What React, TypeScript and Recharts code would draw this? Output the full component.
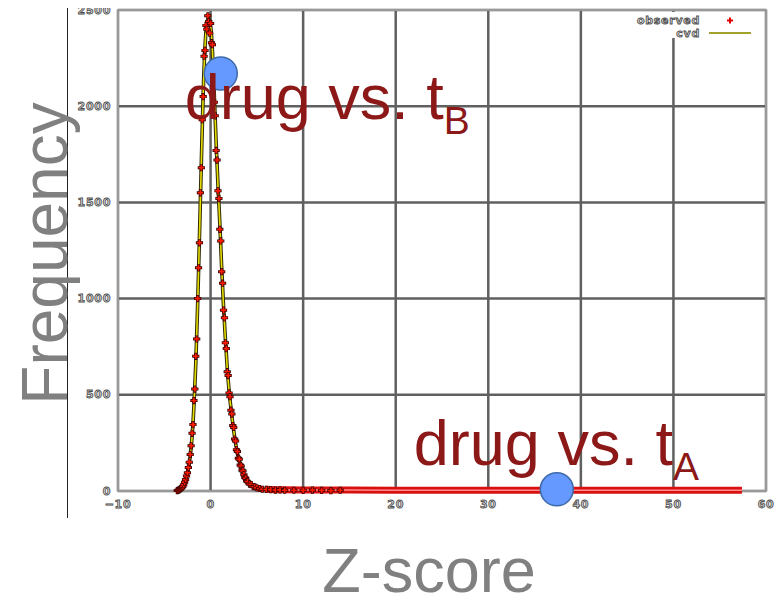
import React from 'react';
import {
  ComposedChart,
  XAxis,
  YAxis,
  CartesianGrid,
  Line,
  Scatter,
  ReferenceDot,
  ReferenceArea,
  Legend,
} from 'recharts';

// ---------- data ----------
const xTicks = [-10, 0, 10, 20, 30, 40, 50, 60];
const yTicks = [0, 500, 1000, 1500, 2000, 2500];
const seriesNames = ['observed', 'cvd'];

const observedZ = [
  -3.6, -3.5, -3.4, -3.3, -3.2, -3.1, -3.0, -2.9, -2.8, -2.7,
  -2.6, -2.5, -2.4, -2.3, -2.2, -2.1, -2.0, -1.9, -1.8, -1.7,
  -1.6, -1.5, -1.4, -1.3, -1.2, -1.1, -1.0, -0.9, -0.8, -0.7,
  -0.6, -0.5, -0.4, -0.3, -0.2, -0.1, 0.0, 0.1, 0.2, 0.3,
  0.4, 0.5, 0.6, 0.7, 0.8, 0.9, 1.0, 1.1, 1.2, 1.3,
  1.4, 1.5, 1.6, 1.7, 1.8, 1.9, 2.0, 2.1, 2.2, 2.3,
  2.4, 2.5, 2.6, 2.7, 2.8, 2.9, 3.0, 3.1, 3.2, 3.3,
  3.4, 3.5, 3.6, 3.7, 3.8, 3.9, 4.0, 4.2, 4.4, 4.6,
  4.8, 5.0, 5.3, 5.6, 6.0, 6.5, 7.0, 7.5, 8.0, 9.0,
  10.0, 11.0, 12.0, 13.0, 14.0,
];
const observedFreq = [
  2, 4, 6, 9, 14, 18, 24, 33, 46, 60,
  78, 95, 122, 150, 190, 235, 300, 345, 470, 530,
  700, 790, 1000, 1160, 1290, 1550, 1680, 1930, 2050, 2260,
  2290, 2420, 2400, 2470, 2440, 2380, 2430, 2330, 2320, 2200,
  2020, 1950, 1770, 1720, 1560, 1520, 1360, 1300, 1140, 1080,
  940, 900, 770, 740, 620, 600, 510, 490, 420, 400,
  340, 330, 270, 260, 215, 205, 170, 165, 135, 130,
  108, 104, 85, 70, 66, 52, 48, 36, 33, 23,
  22, 16, 13, 9, 8, 7, 5, 6, 4, 4,
  3, 5, 3, 2, 4,
];

const fitZ = [
  -3.6, -3.4, -3.2, -3.0, -2.8, -2.6, -2.4, -2.2, -2.0, -1.8,
  -1.6, -1.4, -1.2, -1.0, -0.8, -0.6, -0.4, -0.2, 0.0, 0.2,
  0.4, 0.6, 0.8, 1.0, 1.2, 1.4, 1.6, 1.8, 2.0, 2.2,
  2.4, 2.6, 2.8, 3.0, 3.3, 3.6, 4.0, 4.5, 5.0, 5.5,
  6.0, 7.0, 8.0,
];
const fitFreq = [
  0, 4, 8, 20, 41, 70, 115, 180, 280, 440,
  660, 960, 1320, 1700, 2060, 2310, 2430, 2455, 2420, 2290,
  2060, 1810, 1590, 1390, 1160, 960, 790, 640, 520, 430,
  350, 280, 220, 175, 125, 80, 45, 25, 15, 10,
  7, 5, 4,
];

// long tail of observed counts (dense crosses forming a band)
const tailZ = [6, 7, 8, 10, 15, 20, 25, 30, 35, 40, 45, 50, 55, 57.4];
const tailFreq = [9, 7, 6, 5, 5, 4, 4, 4, 4, 4, 4, 4, 4, 4];

const markerZ = [1.1, 37.4];
const markerFreq = [2170, 9];
const markerSub = ['B', 'A'];

// ---------- derived tables ----------
const observed = observedZ.map((z, i) => ({ z, f: observedFreq[i] }));
const fit = fitZ.map((z, i) => ({ z, f: fitFreq[i] }));
const tail = tailZ.map((z, i) => ({ z, f: tailFreq[i] }));

// ---------- styles ----------
const tinyFont: React.CSSProperties = {
  fontFamily: '"DejaVu Sans", sans-serif',
  fontWeight: 700,
  fontSize: 11,
  fill: '#d6d6d6',
  stroke: '#4a4a4a',
  strokeWidth: 0.8,
  letterSpacing: 0.7,
};
const bigGrey = {
  fontFamily: '"Liberation Sans", Arial, sans-serif',
  fill: '#808080',
};
const redText = '#8c1818';

const fmt = (v: number) => (v < 0 ? '\u2212' + Math.abs(v) : String(v));

const XTick = (props: any) => {
  const { x, y, payload } = props;
  return (
    <text x={x} y={y + 13} textAnchor="middle" dominantBaseline="central" style={tinyFont}>
      {fmt(payload.value)}
    </text>
  );
};

const YTick = (props: any) => {
  const { x, y, payload } = props;
  return (
    <text x={x - 7} y={y} textAnchor="end" dominantBaseline="central" style={tinyFont}>
      {fmt(payload.value)}
    </text>
  );
};

const CrossMark = ({ cx, cy, s = 3.6 }: { cx: number; cy: number; s?: number }) => (
  <g>
    <path
      d={`M${cx - s},${cy}H${cx + s}M${cx},${cy - s}V${cy + s}`}
      stroke="#3a0000"
      strokeWidth={3}
      fill="none"
    />
    <path
      d={`M${cx - s + 0.8},${cy}H${cx + s - 0.8}M${cx},${cy - s + 0.8}V${cy + s - 0.8}`}
      stroke="#ff1a00"
      strokeWidth={1.6}
      fill="none"
    />
  </g>
);

const ScatterShape = (props: any) => {
  if (props.cx == null || props.cy == null) return null;
  return <CrossMark cx={props.cx} cy={props.cy} />;
};

const LegendBox = () => (
  <svg width={162} height={26} style={{ display: 'block' }}>
    <rect x={0} y={0} width={162} height={26} fill="#ffffff" />
    <text x={100} y={8.7} textAnchor="end" dominantBaseline="central" style={tinyFont}>
      {seriesNames[0]}
    </text>
    <path d="M127,8.5H133M130,5.5V11.5" stroke="#e00000" strokeWidth={2} />
    <text x={100} y={21} textAnchor="end" dominantBaseline="central" style={tinyFont}>
      {seriesNames[1]}
    </text>
    <line x1={109} x2={151} y1={21} y2={21} stroke="#a3a32c" strokeWidth={2} />
  </svg>
);

const YLabel = (props: any) => {
  const vb = props.viewBox || { x: 0, y: 2, width: 110, height: 481 };
  const bx = 59;
  const cy = vb.y + vb.height / 2 + 3;
  return (
    <g>
      <line x1={59.5} x2={59.5} y1={0} y2={510} stroke="#222" strokeWidth={1} />
      <text
        x={bx}
        y={cy}
        transform={`rotate(-90, ${bx}, ${cy})`}
        textAnchor="middle"
        fontSize={64}
        style={bigGrey}
      >
        Frequency
      </text>
    </g>
  );
};

const XLabel = (props: any) => {
  const vb = props.viewBox || { x: 110, y: 483, width: 648, height: 108 };
  return (
    <text
      x={vb.x + vb.width / 2 - 13}
      y={vb.y + 101}
      textAnchor="middle"
      fontSize={63}
      style={bigGrey}
    >
      Z-score
    </text>
  );
};

const makeMarkerLabel = (sub: string, dx: number, dy: number) => (props: any) => {
  const vb = props.viewBox;
  if (!vb) return null;
  const cx = vb.x + (vb.width || 0) / 2;
  const cy = vb.y + (vb.height || 0) / 2;
  return (
    <text
      x={cx + dx}
      y={cy + dy}
      fill={redText}
      fontSize={63}
      fontFamily='"Liberation Sans", Arial, sans-serif'
    >
      drug vs. t
      <tspan fontSize={39} dy={15}>
        {sub}
      </tspan>
    </text>
  );
};

const labelOffsets = [
  { dx: -36, dy: 46 },
  { dx: -143, dy: -24 },
];

export default function App() {
  return (
    <div style={{ width: 774, height: 591 }}>
      <ComposedChart
        width={774}
        height={591}
        margin={{ top: 2, right: 16, bottom: 0, left: 0 }}
      >
        <CartesianGrid stroke="#606060" strokeWidth={2.5} />
        <XAxis
          type="number"
          dataKey="z"
          domain={[-10, 60]}
          ticks={xTicks}
          height={108}
          axisLine={false}
          tickLine={false}
          tickSize={0}
          tickMargin={0}
          tick={<XTick />}
          interval={0}
          label={{ content: <XLabel /> }}
        />
        <YAxis
          type="number"
          dataKey="f"
          domain={[0, 2500]}
          ticks={yTicks}
          width={110}
          axisLine={false}
          tickLine={false}
          tickSize={0}
          tickMargin={0}
          tick={<YTick />}
          interval={0}
          label={{ content: <YLabel /> }}
        />
        <ReferenceArea
          x1={-10}
          x2={60}
          y1={0}
          y2={2500}
          fill="none"
          stroke="#999999"
          strokeWidth={2}
        />
        <Line
          data={tail}
          dataKey="f"
          type="linear"
          stroke="#d81010"
          strokeWidth={7}
          dot={false}
          isAnimationActive={false}
          legendType="none"
        />
        <Line
          data={tail}
          dataKey="f"
          type="linear"
          stroke="#ff8c8c"
          strokeWidth={1.6}
          dot={false}
          isAnimationActive={false}
          legendType="none"
        />
        <Line
          data={fit}
          dataKey="f"
          type="monotone"
          stroke="#2e2a00"
          strokeWidth={3.6}
          dot={false}
          isAnimationActive={false}
          legendType="none"
        />
        <Line
          data={fit}
          dataKey="f"
          name={seriesNames[1]}
          type="monotone"
          stroke="#e6dc00"
          strokeWidth={1.6}
          dot={false}
          isAnimationActive={false}
        />
        <Scatter
          data={observed}
          dataKey="f"
          name={seriesNames[0]}
          shape={<ScatterShape />}
          isAnimationActive={false}
        />
        {markerZ.map((z, i) => (
          <ReferenceDot
            key={i}
            x={z}
            y={markerFreq[i]}
            r={16.5}
            fill="#6699ff"
            stroke="#3d6aa8"
            strokeWidth={1.5}
            label={{ content: makeMarkerLabel(markerSub[i], labelOffsets[i].dx, labelOffsets[i].dy) }}
          />
        ))}
        <Legend
          layout="horizontal"
          verticalAlign="middle"
          align="center"
          wrapperStyle={{ left: 592, top: 4, width: 162, height: 26 }}
          content={() => <LegendBox />}
        />
      </ComposedChart>
    </div>
  );
}
